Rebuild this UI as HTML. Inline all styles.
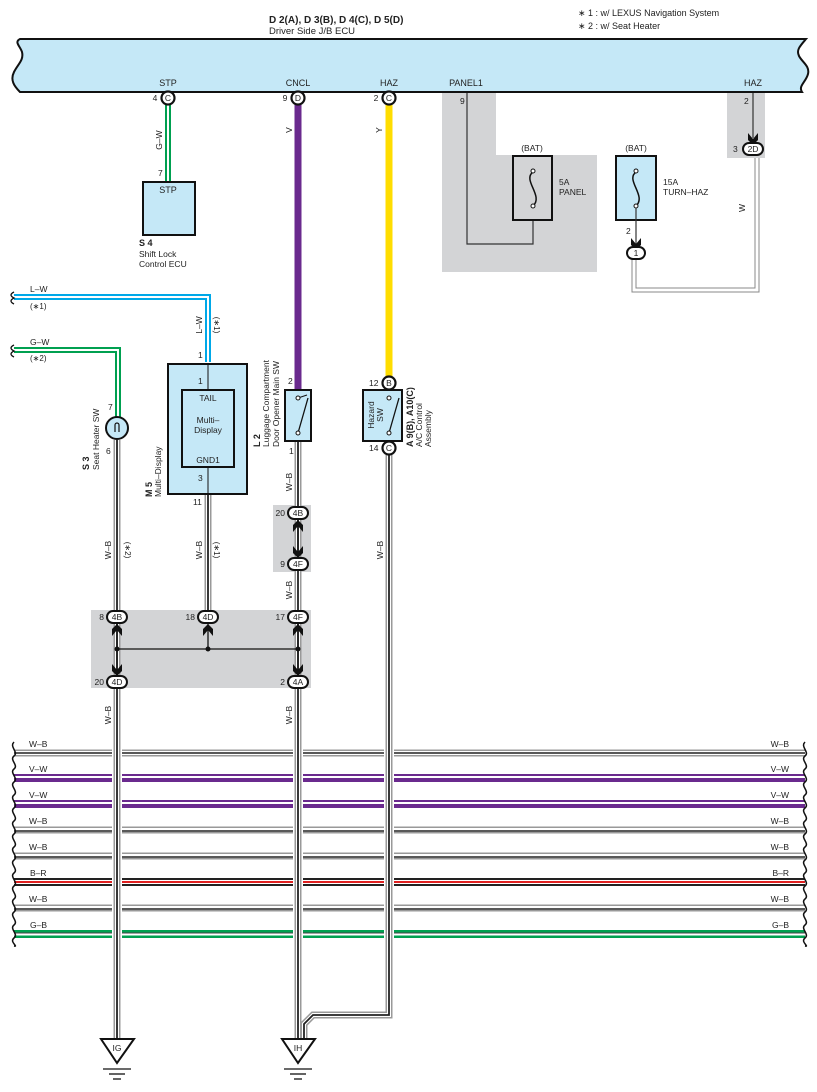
<!DOCTYPE html>
<html><head><meta charset="utf-8"><style>
html,body{margin:0;padding:0;background:#fff}
svg{display:block}
text{font-family:"Liberation Sans",sans-serif;fill:#222}
</style></head><body>
<svg width="817" height="1092" viewBox="0 0 817 1092" xmlns="http://www.w3.org/2000/svg">
<defs>
<g id="arr"><path d="M-5,-6 L0,0 L5,-6 L5,1 L0,6 L-5,1 Z" fill="#111"/></g>
</defs>
<text x="269" y="23" font-size="10" font-weight="bold">D 2(A), D 3(B), D 4(C), D 5(D)</text>
<text x="269" y="34" font-size="9.5">Driver Side J/B ECU</text>
<text x="578" y="16" font-size="9">∗ 1 : w/ LEXUS Navigation System</text>
<text x="578" y="29" font-size="9">∗ 2 : w/ Seat Heater</text>
<path d="M20,39 L806,39 C800,46 796,50 799,56 C802,62 810,66 808,74 C806,82 798,86 802,92 L20,92 C14,86 10,80 14,72 C18,64 24,60 22,52 C20,46 14,42 20,39 Z" fill="#c5e8f7" stroke="#111" stroke-width="2"/>
<g font-size="9" text-anchor="middle">
<text x="168" y="86">STP</text><text x="298" y="86">CNCL</text><text x="389" y="86">HAZ</text>
<text x="466" y="86">PANEL1</text><text x="753" y="86">HAZ</text>
</g>
<path d="M442,93 H496 V155 H597 V272 H442 Z" fill="#d3d4d6"/>
<rect x="727" y="93" width="38" height="65" fill="#d3d4d6"/>
<rect x="273" y="505" width="38" height="67" fill="#d3d4d6"/>
<rect x="91" y="610" width="220" height="78" fill="#d3d4d6"/>
<line x1="168" y1="104" x2="168" y2="182" stroke="#00a050" stroke-width="6"/>
<line x1="168" y1="104" x2="168" y2="182" stroke="#fff" stroke-width="2"/>
<text transform="translate(162,140) rotate(-90)" font-size="8.5" text-anchor="middle">G–W</text>
<text x="158" y="176" font-size="8.5">7</text>
<rect x="143" y="182" width="52" height="53" fill="#c5e8f7" stroke="#111" stroke-width="2"/>
<text x="168" y="193" font-size="9" text-anchor="middle">STP</text>
<text x="139" y="246" font-size="9" font-weight="bold">S 4</text>
<text x="139" y="257" font-size="8.5">Shift Lock</text>
<text x="139" y="267" font-size="8.5">Control ECU</text>
<line x1="298" y1="104" x2="298" y2="390" stroke="#6a2a8e" stroke-width="7"/>
<text transform="translate(292,130) rotate(-90)" font-size="8.5" text-anchor="middle">V</text>
<line x1="389" y1="104" x2="389" y2="377" stroke="#ffdd00" stroke-width="7"/>
<text transform="translate(382,130) rotate(-90)" font-size="8.5" text-anchor="middle">Y</text>
<g stroke="#111" stroke-width="2.2" fill="#fff">
<circle cx="168" cy="98" r="6.5"/><circle cx="298" cy="98" r="6.5"/><circle cx="389" cy="98" r="6.5"/>
</g>
<g font-size="8.5" text-anchor="middle">
<text x="168" y="101">C</text><text x="298" y="101">D</text><text x="389" y="101">C</text>
<text x="155" y="101">4</text><text x="285" y="101">9</text><text x="376" y="101">2</text>
</g>
<text x="460" y="104" font-size="8.5">9</text>
<path d="M467,93 V244 H533 V207" fill="none" stroke="#333" stroke-width="1.2"/>
<rect x="513" y="156" width="39" height="64" fill="#d3d4d6" stroke="#111" stroke-width="2"/>
<text x="532" y="151" font-size="8.5" text-anchor="middle">(BAT)</text>
<path d="M533,172 C522,180 544,196 533,206" fill="none" stroke="#111" stroke-width="1.5"/>
<circle cx="533" cy="171" r="2" fill="#fff" stroke="#111"/><circle cx="533" cy="206" r="2" fill="#fff" stroke="#111"/>
<text x="559" y="185" font-size="8.5">5A</text><text x="559" y="195" font-size="8.5">PANEL</text>
<rect x="616" y="156" width="40" height="64" fill="#c5e8f7" stroke="#111" stroke-width="2"/>
<text x="636" y="151" font-size="8.5" text-anchor="middle">(BAT)</text>
<path d="M636,172 C625,180 647,196 636,206" fill="none" stroke="#111" stroke-width="1.5"/>
<circle cx="636" cy="171" r="2" fill="#fff" stroke="#111"/><circle cx="636" cy="206" r="2" fill="#fff" stroke="#111"/>
<text x="663" y="185" font-size="8.5">15A</text><text x="663" y="195" font-size="8.5">TURN–HAZ</text>
<line x1="636" y1="208" x2="636" y2="244" stroke="#333" stroke-width="1.2"/>
<use href="#arr" x="636" y="244"/>
<text x="626" y="234" font-size="8.5">2</text>
<path d="M634,259 V290 H757 V158" fill="none" stroke="#888" stroke-width="5"/>
<path d="M634,259 V290 H757 V158" fill="none" stroke="#fff" stroke-width="3"/>
<rect x="627" y="247" width="18" height="12" rx="6" fill="#fff" stroke="#111" stroke-width="2"/>
<text x="636" y="256" font-size="8.5" text-anchor="middle">1</text>
<text transform="translate(745,208) rotate(-90)" font-size="8.5" text-anchor="middle">W</text>
<line x1="753" y1="93" x2="753" y2="138" stroke="#333" stroke-width="1.2"/>
<use href="#arr" x="753" y="139"/>
<text x="744" y="104" font-size="8.5">2</text>
<rect x="743" y="143" width="20" height="12" rx="6" fill="#fff" stroke="#111" stroke-width="2"/>
<text x="753" y="152" font-size="8.5" text-anchor="middle">2D</text>
<text x="733" y="152" font-size="8.5">3</text>
<path d="M14,297 H208 V362" fill="none" stroke="#00a8e8" stroke-width="6"/>
<path d="M14,297 H208 V362" fill="none" stroke="#fff" stroke-width="2"/>
<text x="30" y="292" font-size="8.5">L–W</text><text x="30" y="309" font-size="8">(∗1)</text>
<text transform="translate(202,325) rotate(-90)" font-size="8.5" text-anchor="middle">L–W</text>
<text transform="translate(214,325) rotate(90)" font-size="8" text-anchor="middle">(∗1)</text>
<path d="M14,292 C10,294 10,296 14,298 C10,300 10,302 14,304" fill="none" stroke="#111" stroke-width="1.3"/>
<path d="M14,350 H118 V418" fill="none" stroke="#00a050" stroke-width="6"/>
<path d="M14,350 H118 V418" fill="none" stroke="#fff" stroke-width="2"/>
<text x="30" y="345" font-size="8.5">G–W</text><text x="30" y="361" font-size="8">(∗2)</text>
<path d="M14,345 C10,347 10,349 14,351 C10,353 10,355 14,357" fill="none" stroke="#111" stroke-width="1.3"/>
<g fill="none">
<line x1="14" y1="753" x2="805" y2="753" stroke="#999" stroke-width="7"/><line x1="14" y1="753" x2="805" y2="753" stroke="#fff" stroke-width="4"/><line x1="14" y1="753" x2="805" y2="753" stroke="#222" stroke-width="1.6"/>
<line x1="14" y1="778" x2="805" y2="778" stroke="#6a2a8e" stroke-width="8"/><line x1="14" y1="777" x2="805" y2="777" stroke="#fff" stroke-width="2"/>
<line x1="14" y1="804" x2="805" y2="804" stroke="#6a2a8e" stroke-width="8"/><line x1="14" y1="803" x2="805" y2="803" stroke="#fff" stroke-width="2"/>
<line x1="14" y1="830" x2="805" y2="830" stroke="#999" stroke-width="7"/><line x1="14" y1="830" x2="805" y2="830" stroke="#fff" stroke-width="4"/><line x1="14" y1="831" x2="805" y2="831" stroke="#222" stroke-width="1.6"/>
<line x1="14" y1="856" x2="805" y2="856" stroke="#999" stroke-width="7"/><line x1="14" y1="856" x2="805" y2="856" stroke="#fff" stroke-width="4"/><line x1="14" y1="857" x2="805" y2="857" stroke="#222" stroke-width="1.6"/>
<line x1="14" y1="882" x2="805" y2="882" stroke="#222" stroke-width="8"/><line x1="14" y1="882" x2="805" y2="882" stroke="#fff" stroke-width="4"/><line x1="14" y1="882" x2="805" y2="882" stroke="#e02020" stroke-width="2"/>
<line x1="14" y1="908" x2="805" y2="908" stroke="#999" stroke-width="7"/><line x1="14" y1="908" x2="805" y2="908" stroke="#fff" stroke-width="4"/><line x1="14" y1="909" x2="805" y2="909" stroke="#222" stroke-width="1.6"/>
<line x1="14" y1="934" x2="805" y2="934" stroke="#00a050" stroke-width="8"/><line x1="14" y1="934" x2="805" y2="934" stroke="#fff" stroke-width="3"/><line x1="14" y1="933" x2="805" y2="933" stroke="#444" stroke-width="1"/>
</g>
<g font-size="8.5">
<text x="29" y="747">W–B</text><text x="29" y="772">V–W</text><text x="29" y="798">V–W</text><text x="29" y="824">W–B</text>
<text x="29" y="850">W–B</text><text x="30" y="876">B–R</text><text x="29" y="902">W–B</text><text x="30" y="928">G–B</text>
</g>
<g font-size="8.5" text-anchor="end">
<text x="789" y="747">W–B</text><text x="789" y="772">V–W</text><text x="789" y="798">V–W</text><text x="789" y="824">W–B</text>
<text x="789" y="850">W–B</text><text x="789" y="876">B–R</text><text x="789" y="902">W–B</text><text x="789" y="928">G–B</text>
</g>
<path d="M14,742 C9,747 19,752 14,756 C9,760 19,765 14,769 C9,773 19,778 14,782 C9,786 19,791 14,795 C9,799 19,804 14,808 C9,812 19,817 14,821 C9,825 19,830 14,834 C9,838 19,843 14,847 C9,851 19,856 14,860 C9,864 19,869 14,873 C9,877 19,882 14,886 C9,890 19,895 14,899 C9,903 19,908 14,912 C9,916 19,921 14,925 C9,929 19,934 14,938 C9,942 19,947 14,946" fill="none" stroke="#111" stroke-width="1.5"/>
<path d="M805,742 C800,747 810,752 805,756 C800,760 810,765 805,769 C800,773 810,778 805,782 C800,786 810,791 805,795 C800,799 810,804 805,808 C800,812 810,817 805,821 C800,825 810,830 805,834 C800,838 810,843 805,847 C800,851 810,856 805,860 C800,864 810,869 805,873 C800,877 810,882 805,886 C800,890 810,895 805,899 C800,903 810,908 805,912 C800,916 810,921 805,925 C800,929 810,934 805,938 C800,942 810,947 805,946" fill="none" stroke="#111" stroke-width="1.5"/>
<g fill="none">
<g stroke="#fff" stroke-width="10"><line x1="117" y1="742" x2="117" y2="945"/><line x1="298" y1="742" x2="298" y2="945"/><line x1="389" y1="742" x2="389" y2="945"/></g>
<g stroke="#999" stroke-width="7">
<line x1="117" y1="440" x2="117" y2="1042"/><line x1="208" y1="495" x2="208" y2="612"/><line x1="298" y1="441" x2="298" y2="1042"/>
<path d="M389,455 V1015 H313 L304,1024 V1042"/>
</g>
<g stroke="#fff" stroke-width="4">
<line x1="117" y1="440" x2="117" y2="1042"/><line x1="208" y1="495" x2="208" y2="612"/><line x1="298" y1="441" x2="298" y2="1042"/>
<path d="M389,455 V1015 H313 L304,1024 V1042"/>
</g>
<g stroke="#222" stroke-width="1.8">
<line x1="117" y1="440" x2="117" y2="1042"/><line x1="208" y1="495" x2="208" y2="612"/><line x1="298" y1="441" x2="298" y2="1042"/>
<path d="M389,455 V1015 H313 L304,1024 V1042"/>
</g>
</g>
<g font-size="8.5" text-anchor="middle">
<text transform="translate(111,550) rotate(-90)">W–B</text><text transform="translate(125,550) rotate(90)" font-size="8">(∗2)</text>
<text transform="translate(202,550) rotate(-90)">W–B</text><text transform="translate(214,550) rotate(90)" font-size="8">(∗1)</text>
<text transform="translate(292,482) rotate(-90)">W–B</text><text transform="translate(292,590) rotate(-90)">W–B</text>
<text transform="translate(383,550) rotate(-90)">W–B</text>
<text transform="translate(111,715) rotate(-90)">W–B</text><text transform="translate(292,715) rotate(-90)">W–B</text>
</g>
<circle cx="117" cy="428" r="11" fill="#c5e8f7" stroke="#111" stroke-width="2"/>
<path d="M115,432 V425 A2,2 0 0 1 119,425 V432" fill="none" stroke="#111" stroke-width="1.2"/>
<text x="108" y="410" font-size="8.5">7</text><text x="106" y="454" font-size="8.5">6</text>
<text transform="translate(89,470) rotate(-90)" font-size="9" font-weight="bold">S 3</text>
<text transform="translate(99,470) rotate(-90)" font-size="8.5">Seat Heater SW</text>
<rect x="168" y="364" width="79" height="130" fill="#c5e8f7" stroke="#111" stroke-width="2"/>
<line x1="208" y1="364" x2="208" y2="389" stroke="#111"/><line x1="208" y1="467" x2="208" y2="494" stroke="#111"/>
<rect x="182" y="390" width="52" height="77" fill="#c5e8f7" stroke="#111" stroke-width="2"/>
<g font-size="8.5" text-anchor="middle">
<text x="208" y="401">TAIL</text><text x="208" y="423">Multi–</text><text x="208" y="433">Display</text><text x="208" y="463">GND1</text>
</g>
<g font-size="8.5">
<text x="198" y="358">1</text><text x="198" y="384">1</text><text x="198" y="481">3</text><text x="193" y="505">11</text>
</g>
<text transform="translate(152,497) rotate(-90)" font-size="9" font-weight="bold">M 5</text>
<text transform="translate(161,497) rotate(-90)" font-size="8.5">Multi–Display</text>
<rect x="285" y="390" width="26" height="51" fill="#c5e8f7" stroke="#111" stroke-width="2"/>
<line x1="298" y1="398" x2="307" y2="395" stroke="#111"/><line x1="298" y1="433" x2="308" y2="398" stroke="#111" stroke-width="1.3"/>
<circle cx="298" cy="398" r="2" fill="#fff" stroke="#111"/><circle cx="298" cy="433" r="2" fill="#fff" stroke="#111"/>
<text x="288" y="384" font-size="8.5">2</text><text x="289" y="454" font-size="8.5">1</text>
<text transform="translate(260,447) rotate(-90)" font-size="9" font-weight="bold">L 2</text>
<text transform="translate(269,447) rotate(-90)" font-size="8.5">Luggage Compartment</text>
<text transform="translate(279,447) rotate(-90)" font-size="8.5">Door Opener Main SW</text>
<rect x="363" y="390" width="39" height="51" fill="#c5e8f7" stroke="#111" stroke-width="2"/>
<line x1="389" y1="433" x2="399" y2="398" stroke="#111" stroke-width="1.3"/>
<circle cx="389" cy="398" r="2" fill="#fff" stroke="#111"/><circle cx="389" cy="433" r="2" fill="#fff" stroke="#111"/>
<text transform="translate(374,415) rotate(-90)" font-size="8.5" text-anchor="middle">Hazard</text>
<text transform="translate(383,415) rotate(-90)" font-size="8.5" text-anchor="middle">SW</text>
<g stroke="#111" stroke-width="2.2" fill="#fff"><circle cx="389" cy="383" r="6.5"/><circle cx="389" cy="448" r="6.5"/></g>
<text x="389" y="386" font-size="8.5" text-anchor="middle">B</text><text x="389" y="451" font-size="8.5" text-anchor="middle">C</text>
<text x="369" y="386" font-size="8.5">12</text><text x="369" y="451" font-size="8.5">14</text>
<text transform="translate(413,447) rotate(-90)" font-size="9" font-weight="bold">A 9(B), A10(C)</text>
<text transform="translate(422,447) rotate(-90)" font-size="8.5">A/C Control</text>
<text transform="translate(431,447) rotate(-90)" font-size="8.5">Assembly</text>
<g stroke="#111" stroke-width="1.3">
<line x1="117" y1="649" x2="298" y2="649"/>
<line x1="117" y1="624" x2="117" y2="676"/><line x1="208" y1="624" x2="208" y2="649"/><line x1="298" y1="624" x2="298" y2="676"/>
<line x1="298" y1="520" x2="298" y2="557"/>
</g>
<g fill="#111"><circle cx="117" cy="649" r="2.5"/><circle cx="208" cy="649" r="2.5"/><circle cx="298" cy="649" r="2.5"/></g>
<g transform="rotate(180 117 630)"><use href="#arr" x="117" y="630"/></g>
<g transform="rotate(180 208 630)"><use href="#arr" x="208" y="630"/></g>
<g transform="rotate(180 298 630)"><use href="#arr" x="298" y="630"/></g>
<use href="#arr" x="117" y="670"/><use href="#arr" x="298" y="670"/>
<g transform="rotate(180 298 526)"><use href="#arr" x="298" y="526"/></g>
<use href="#arr" x="298" y="552"/>
<g stroke="#111" stroke-width="2" fill="#fff">
<rect x="288" y="507" width="20" height="12" rx="6"/><rect x="288" y="558" width="20" height="12" rx="6"/>
<rect x="107" y="611" width="20" height="12" rx="6"/><rect x="198" y="611" width="20" height="12" rx="6"/><rect x="288" y="611" width="20" height="12" rx="6"/>
<rect x="107" y="676" width="20" height="12" rx="6"/><rect x="288" y="676" width="20" height="12" rx="6"/>
</g>
<g font-size="8.5" text-anchor="middle">
<text x="298" y="516">4B</text><text x="298" y="567">4F</text>
<text x="117" y="620">4B</text><text x="208" y="620">4D</text><text x="298" y="620">4F</text>
<text x="117" y="685">4D</text><text x="298" y="685">4A</text>
</g>
<g font-size="8.5" text-anchor="end">
<text x="285" y="516">20</text><text x="285" y="567">9</text>
<text x="104" y="620">8</text><text x="195" y="620">18</text><text x="285" y="620">17</text>
<text x="104" y="685">20</text><text x="285" y="685">2</text>
</g>
<g stroke="#111" stroke-width="2" fill="#fff">
<path d="M101,1039 H134 L117,1063 Z"/><path d="M282,1039 H315 L298,1063 Z"/>
</g>
<g stroke="#111" stroke-width="1.3">
<line x1="103" y1="1069" x2="131" y2="1069"/><line x1="109" y1="1074" x2="125" y2="1074"/><line x1="113" y1="1079" x2="121" y2="1079"/>
<line x1="284" y1="1069" x2="312" y2="1069"/><line x1="290" y1="1074" x2="306" y2="1074"/><line x1="294" y1="1079" x2="302" y2="1079"/>
</g>
<text x="117" y="1051" font-size="8.5" text-anchor="middle">IG</text>
<text x="298" y="1051" font-size="8.5" text-anchor="middle">IH</text>
</svg>
</body></html>
